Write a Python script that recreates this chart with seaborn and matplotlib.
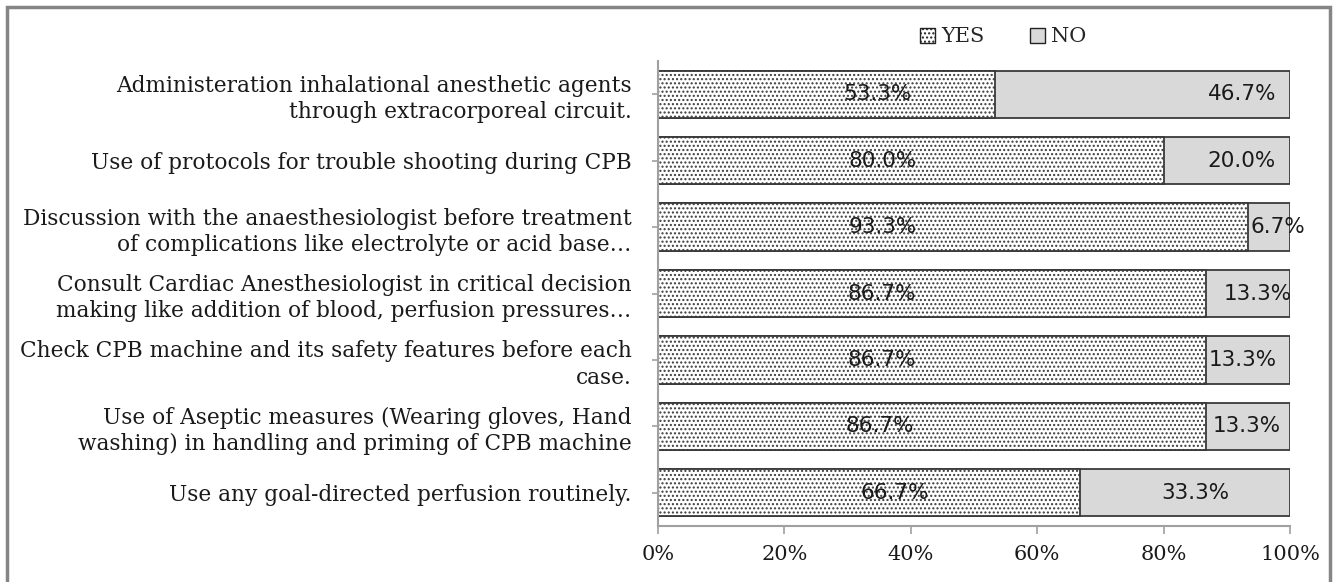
import matplotlib
matplotlib.use("Agg")
import matplotlib.pyplot as plt
import seaborn as sns
import pandas as pd
from matplotlib.patches import Rectangle, Patch

categories = [
    "Administeration inhalational anesthetic agents\nthrough extracorporeal circuit.",
    "Use of protocols for trouble shooting during CPB",
    "Discussion with the anaesthesiologist before treatment\nof complications like electrolyte or acid base\u2026",
    "Consult Cardiac Anesthesiologist in critical decision\nmaking like addition of blood, perfusion pressures\u2026",
    "Check CPB machine and its safety features before each\ncase.",
    "Use of Aseptic measures (Wearing gloves, Hand\nwashing) in handling and priming of CPB machine",
    "Use any goal-directed perfusion routinely.",
]
yes_values = [53.3, 80.0, 93.3, 86.7, 86.7, 86.7, 66.7]
no_values = [46.7, 20.0, 6.7, 13.3, 13.3, 13.3, 33.3]
xticks = [0, 20, 40, 60, 80, 100]

# label placement (fraction of axis) as in the original
yes_label_x = [34.7, 35.6, 35.6, 35.4, 35.4, 35.1, 37.5]
no_label_x = [92.4, 92.4, 98.1, 94.9, 92.6, 93.2, 85.1]

sns.set_theme(style="white")
plt.rcParams["hatch.linewidth"] = 1.0
plt.rcParams["hatch.color"] = "#222222"

df = pd.DataFrame({"cat": categories, "yes": yes_values, "no": no_values})
df["total"] = df["yes"] + df["no"]

W, H = 1334, 582
fig = plt.figure(figsize=(W / 100, H / 100), dpi=100)
ax = fig.add_axes([658 / W, 1 - 526 / H, (1290 - 658) / W, (526 - 61) / H])

sns.barplot(data=df, x="total", y="cat", orient="h", color="#d9d9d9",
            edgecolor="#3a3a3a", linewidth=1.3, width=0.71, ax=ax, saturation=1)
sns.barplot(data=df, x="yes", y="cat", orient="h", color="white",
            edgecolor="#3a3a3a", linewidth=1.3, width=0.71, ax=ax, saturation=1)
n = len(categories)
for p in ax.patches[n:]:
    p.set_hatch("....")

ax.set_xlim(0, 100)
ax.set_ylim(n - 0.5, -0.5)
ax.set_xlabel("")
ax.set_ylabel("")
ax.set_xticks(xticks)
ax.set_xticklabels([f"{t}%" for t in xticks], family="DejaVu Serif", fontsize=15, color="#1a1a1a")
ax.set_yticks(range(n))
ax.set_yticklabels(categories, family="DejaVu Serif", fontsize=15.6, color="#1a1a1a",
                   ha="right", linespacing=1.25)
ax.tick_params(axis="y", direction="inout", length=8, color="#a0a0a0", width=1.2, pad=15, left=True)
ax.tick_params(axis="x", direction="out", length=6, color="#a0a0a0", width=1.2, pad=8, bottom=True)
for s in ["top", "right"]:
    ax.spines[s].set_visible(False)
for s in ["left", "bottom"]:
    ax.spines[s].set_color("#a0a0a0")
    ax.spines[s].set_linewidth(1.5)

for i in range(n):
    ax.text(yes_label_x[i], i, f"{yes_values[i]:.1f}%", ha="center", va="center",
            family="DejaVu Sans", fontsize=15.5, color="#1a1a1a")
    ax.text(no_label_x[i], i, f"{no_values[i]:.1f}%", ha="center", va="center",
            family="DejaVu Sans", fontsize=15.5, color="#1a1a1a")

handles = [Patch(facecolor="white", edgecolor="#222222", hatch="....", label="YES"),
           Patch(facecolor="#d9d9d9", edgecolor="#222222", label="NO")]
fig.legend(handles=handles, loc="center", bbox_to_anchor=(1003 / W, 1 - 37 / H), ncol=2,
           frameon=False, prop={"family": "DejaVu Serif", "size": 15},
           handlelength=0.7, handleheight=0.7, handletextpad=0.3, columnspacing=2.2)

fig.patches.append(Rectangle((7 / W, -0.05), (1330 - 7) / W, 1.05 - 7 / H,
                             transform=fig.transFigure, fill=False,
                             edgecolor="#858585", linewidth=2.5))

fig.savefig("out.png", dpi=100)
